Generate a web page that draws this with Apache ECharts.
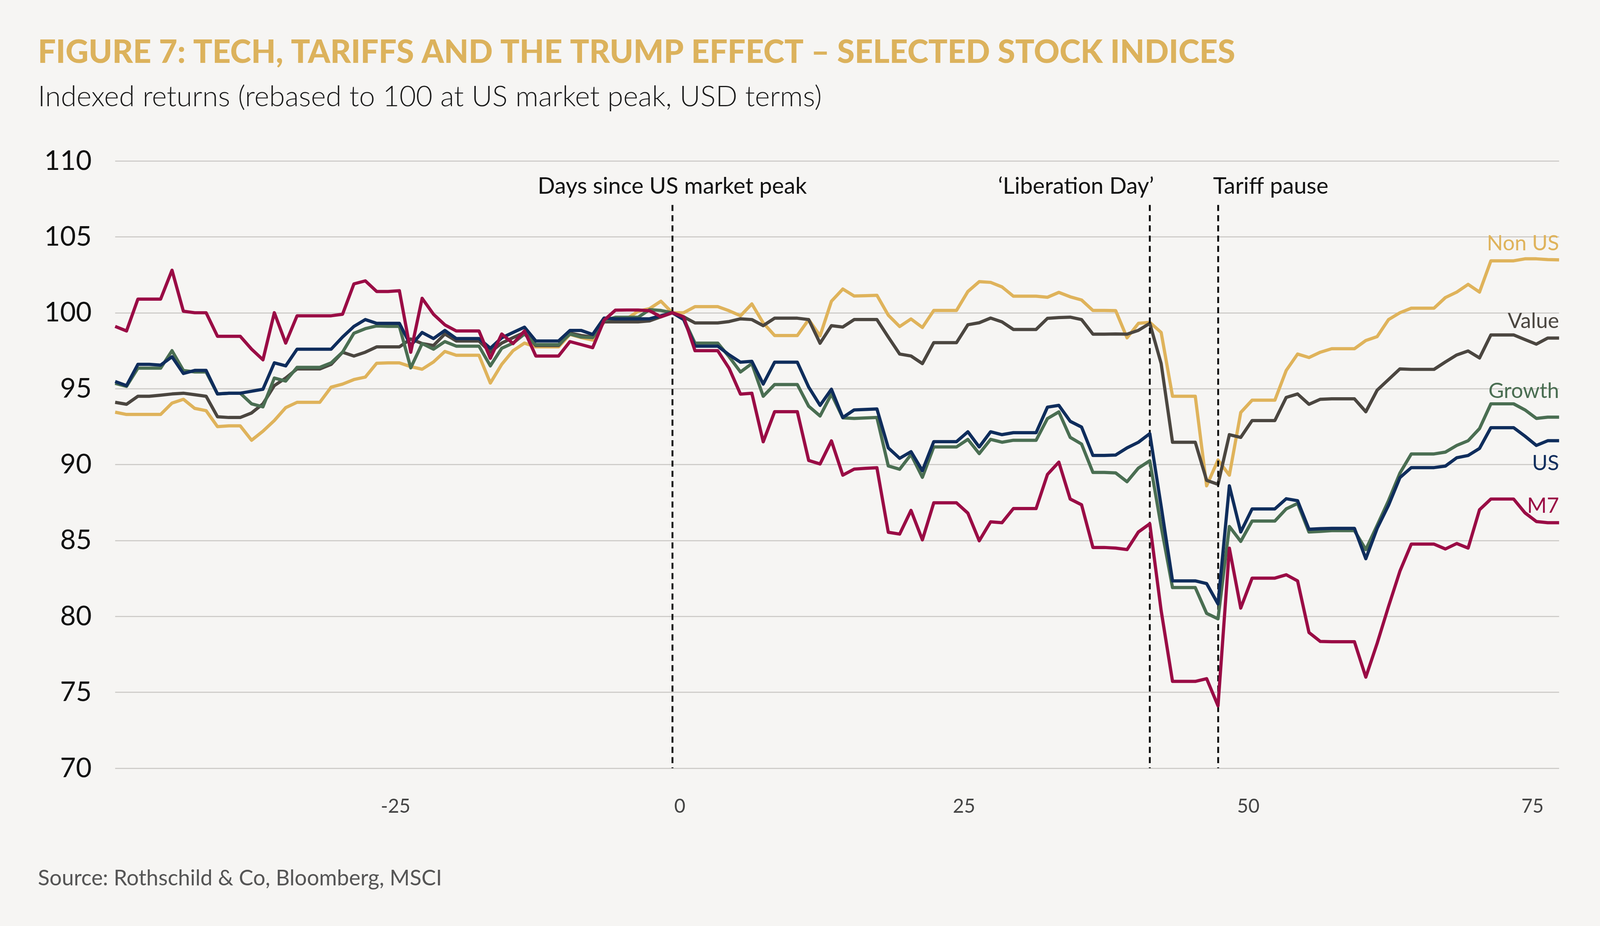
<!DOCTYPE html>
<html>
<head>
<meta charset="utf-8">
<script src="https://cdn.jsdelivr.net/npm/echarts@6/dist/echarts.min.js"></script>
<style>
html,body{margin:0;padding:0;background:#f6f5f3;overflow:hidden;width:100%;height:100%;}
#chart{position:absolute;left:0;top:0;width:100vw;height:100vh;}
</style>
</head>
<body>
<div id="chart"></div>
<script>
// ---- data ----
const startDay = -49; // first day shown (days since US market peak)
const xTickValues = [-25, 0, 25, 50, 75];
const yTickMin = 70, yTickMax = 110, yTickStep = 5;

const seriesNames = ['Non US', 'Value', 'Growth', 'US', 'M7'];
const seriesColors = ['#dfb35b', '#4b4640', '#4a6e52', '#0f2d5c', '#9a0c45'];

const nonUS = [93.45,93.3,93.3,93.3,93.3,94.05,94.3,93.7,93.55,92.5,92.55,92.55,91.6,92.2,92.9,93.75,94.1,94.1,94.1,95.1,95.3,95.6,95.76,96.67,96.7,96.7,96.45,96.28,96.76,97.45,97.2,97.2,97.2,95.37,96.6,97.5,98.0,97.75,97.75,97.75,98.57,98.36,98.2,99.4,99.55,99.6,100.1,100.27,100.76,100.0,100.0,100.4,100.4,100.4,100.13,99.8,100.58,99.33,98.5,98.5,98.5,99.55,98.48,100.76,101.56,101.1,101.12,101.15,99.84,99.09,99.59,99.03,100.15,100.15,100.15,101.4,102.05,102.0,101.7,101.09,101.09,101.09,101.02,101.34,101.05,100.84,100.15,100.15,100.14,98.35,99.3,99.37,98.7,94.5,94.5,94.5,88.6,90.3,89.3,93.43,94.24,94.24,94.24,96.2,97.28,97.05,97.4,97.63,97.63,97.63,98.17,98.43,99.55,100.0,100.3,100.3,100.3,101.0,101.36,101.87,101.36,103.42,103.42,103.42,103.55,103.55,103.5,103.48];

const valueIdx = [94.1,93.97,94.5,94.5,94.57,94.65,94.7,94.6,94.5,93.15,93.1,93.1,93.4,94.0,95.2,95.7,96.3,96.3,96.3,96.6,97.4,97.15,97.4,97.75,97.75,97.75,98.27,97.97,97.84,98.6,98.14,98.14,98.14,97.4,98.0,98.36,98.7,97.84,97.84,97.84,98.66,98.5,98.4,99.4,99.4,99.4,99.4,99.46,99.73,100,99.73,99.33,99.33,99.33,99.42,99.6,99.55,99.15,99.64,99.64,99.64,99.55,97.99,99.15,99.06,99.55,99.55,99.55,98.4,97.28,97.15,96.65,98.03,98.03,98.03,99.21,99.34,99.65,99.4,98.9,98.9,98.9,99.63,99.68,99.71,99.55,98.59,98.59,98.6,98.59,98.84,99.3,96.65,91.47,91.47,91.47,88.96,88.7,91.97,91.79,92.9,92.9,92.9,94.42,94.65,93.97,94.3,94.33,94.33,94.33,93.48,94.9,95.6,96.3,96.27,96.27,96.27,96.76,97.22,97.48,97.02,98.54,98.54,98.54,98.23,97.93,98.33,98.33];

const growth = [95.35,95.15,96.35,96.35,96.35,97.5,96.2,96.1,96.1,94.65,94.7,94.7,94.0,93.8,95.7,95.5,96.4,96.4,96.4,96.7,97.4,98.65,98.95,99.13,99.1,99.1,96.37,97.97,97.6,98.1,97.8,97.8,97.8,96.5,97.66,98.0,98.6,97.9,97.9,97.9,98.6,98.4,98.36,99.48,99.7,99.7,99.7,100.2,100.15,100,99.6,98.0,98.0,98.0,97.1,96.1,96.65,94.5,95.27,95.27,95.27,93.84,93.2,94.64,93.08,93.04,93.07,93.1,89.91,89.69,90.66,89.16,91.16,91.16,91.16,91.66,90.72,91.66,91.47,91.6,91.6,91.6,93.03,93.47,91.79,91.35,89.48,89.48,89.45,88.87,89.77,90.25,85.92,81.9,81.9,81.9,80.2,79.84,85.92,84.94,86.28,86.28,86.28,87.08,87.44,85.56,85.6,85.65,85.65,85.65,84.4,86.0,87.63,89.44,90.7,90.7,90.7,90.82,91.26,91.57,92.37,94.0,94.0,94.0,93.6,93.04,93.12,93.12];

const us = [95.47,95.2,96.6,96.6,96.55,97.1,96.0,96.2,96.2,94.65,94.7,94.7,94.83,94.96,96.7,96.5,97.6,97.6,97.6,97.6,98.4,99.1,99.55,99.3,99.3,99.3,97.84,98.7,98.3,98.83,98.3,98.3,98.3,97.66,98.35,98.7,99.05,98.14,98.14,98.14,98.83,98.83,98.57,99.65,99.6,99.6,99.6,99.6,99.8,100,99.55,97.8,97.8,97.8,97.23,96.74,96.8,95.3,96.74,96.74,96.74,95.1,93.9,94.96,93.1,93.6,93.63,93.66,91.1,90.41,90.85,89.6,91.51,91.51,91.51,92.16,91.16,92.16,91.97,92.1,92.1,92.1,93.78,93.9,92.85,92.47,90.6,90.6,90.63,91.1,91.47,92.04,87.26,82.34,82.34,82.34,82.16,80.82,88.6,85.56,87.08,87.08,87.08,87.75,87.62,85.74,85.78,85.8,85.8,85.8,83.8,85.8,87.32,89.14,89.8,89.8,89.8,89.9,90.45,90.6,91.06,92.43,92.43,92.43,91.87,91.26,91.57,91.57];

const m7 = [99.1,98.8,100.9,100.9,100.9,102.8,100.1,100.0,100.0,98.45,98.45,98.45,97.6,96.9,100.0,98.0,99.8,99.8,99.8,99.8,99.9,101.9,102.1,101.4,101.4,101.45,97.4,100.95,99.9,99.2,98.8,98.8,98.8,97.0,98.6,97.97,98.8,97.15,97.15,97.15,98.1,97.9,97.7,99.5,100.17,100.18,100.18,100.13,99.73,100,99.73,97.5,97.5,97.5,96.34,94.64,94.7,91.5,93.48,93.48,93.48,90.27,90.04,91.56,89.3,89.7,89.75,89.79,85.54,85.42,86.98,85.04,87.48,87.48,87.48,86.8,84.98,86.23,86.17,87.1,87.1,87.1,89.35,90.16,87.73,87.35,84.54,84.54,84.5,84.4,85.56,86.1,80.38,75.72,75.72,75.72,75.9,74.11,84.49,80.55,82.52,82.52,82.52,82.74,82.34,78.94,78.35,78.33,78.33,78.33,76.0,78.23,80.66,82.98,84.76,84.76,84.76,84.44,84.8,84.5,87.02,87.73,87.73,87.73,86.82,86.25,86.17,86.17];

const eventDays = [0, 42, 48];
const eventLabels = ['Days since US market peak', '\u2018Liberation Day\u2019', 'Tariff pause'];
const eventLineTop = 107.1;

const titleText = 'FIGURE 7: TECH, TARIFFS AND THE TRUMP EFFECT \u2013 SELECTED STOCK INDICES';
const subtitleText = 'Indexed returns (rebased to 100 at US market peak, USD terms)';
const sourceText = 'Source: Rothschild & Co, Bloomberg, MSCI';

// ---- build ----
const W = window.innerWidth, H = window.innerHeight;
const kx = W / 4224, ky = H / 2371, k = Math.min(kx, ky);
const allSeries = [nonUS, valueIdx, growth, us, m7];
const lastDay = startDay + nonUS.length - 1;
function pairs(arr){ return arr.map((v,i)=>[startDay + i, v]); }

const FONT = 'Lato, "Noto Sans", sans-serif';
const chart = echarts.init(document.getElementById('chart'), null, {renderer:'canvas', width: W, height: H});

const series = allSeries.map((arr, i) => ({
  name: seriesNames[i],
  type: 'line',
  data: pairs(arr),
  showSymbol: false,
  symbol: 'none',
  lineStyle: {color: seriesColors[i], width: 8.5*k, join: 'round'},
  itemStyle: {color: seriesColors[i]},
  z: 3 + i,
  animation: false
}));

series[0].markLine = {
  silent: true,
  symbol: ['none','none'],
  label: {show:false},
  lineStyle: {color:'#111', type:[16*k,11*k], width:5*k},
  data: eventDays.map(d => [{coord:[d, eventLineTop]}, {coord:[d, yTickMin]}]),
  animation: false
};

chart.setOption({
  backgroundColor: '#f6f5f3',
  animation: false,
  grid: {left: 304*kx, right: 108*kx, top: 412*ky, bottom: 404*ky, containLabel: false},
  xAxis: {
    type: 'value', min: startDay, max: lastDay,
    axisLine: {show:false}, axisTick: {show:false}, splitLine: {show:false},
    axisLabel: {customValues: xTickValues, fontSize: 51*k, color:'#444', fontFamily: FONT, margin: 74*ky,
      padding: [0, 0, 0, 40*kx]}
  },
  yAxis: {
    type: 'value', min: yTickMin, max: yTickMax, interval: yTickStep,
    axisLine: {show:false}, axisTick: {show:false},
    splitLine: {lineStyle: {color:'#cfcdca', width:3*k}},
    axisLabel: {fontSize: 72*k, color:'#111', fontFamily: FONT, margin: 62*kx}
  },
  series: series
});

// ---- text graphics positioned through the chart's scales ----
const g = [];
function f(weight, size){ return weight + ' ' + (size*k).toFixed(1) + 'px ' + FONT; }
g.push({type:'text', x:100*kx, y:135*ky, style:{text:titleText, font:f(900,84), fill:'#dcb25c', verticalAlign:'middle'}});
g.push({type:'text', x:100*kx, y:248*ky, style:{text:subtitleText, font:f(300,75.5), fill:'#1a1a1a', verticalAlign:'middle'}});
g.push({type:'text', x:100*kx, y:2249*ky, style:{text:sourceText, font:f(400,57), fill:'#555', verticalAlign:'middle'}});

const aligns = ['center','right','left'];
eventDays.forEach((d,i)=>{
  const p = chart.convertToPixel({gridIndex:0},[d, eventLineTop]);
  const dx = aligns[i]==='right' ? 11*kx : (aligns[i]==='left' ? -13*kx : 0);
  g.push({type:'text', x:p[0]+dx, y:p[1]-48*ky,
    style:{text:eventLabels[i], font:f(400,60), fill:'#111', align:aligns[i], verticalAlign:'middle'}});
});

const labelDy = [-42, -43, -67, 58, -43];
allSeries.forEach((arr,i)=>{
  const p = chart.convertToPixel({gridIndex:0},[lastDay, arr[arr.length-1]]);
  g.push({type:'text', x:p[0], y:p[1]+labelDy[i]*ky,
    style:{text:seriesNames[i], font:f(400,56), fill:seriesColors[i], align:'right', verticalAlign:'middle'}});
});

chart.setOption({graphic: g});
</script>
</body>
</html>
